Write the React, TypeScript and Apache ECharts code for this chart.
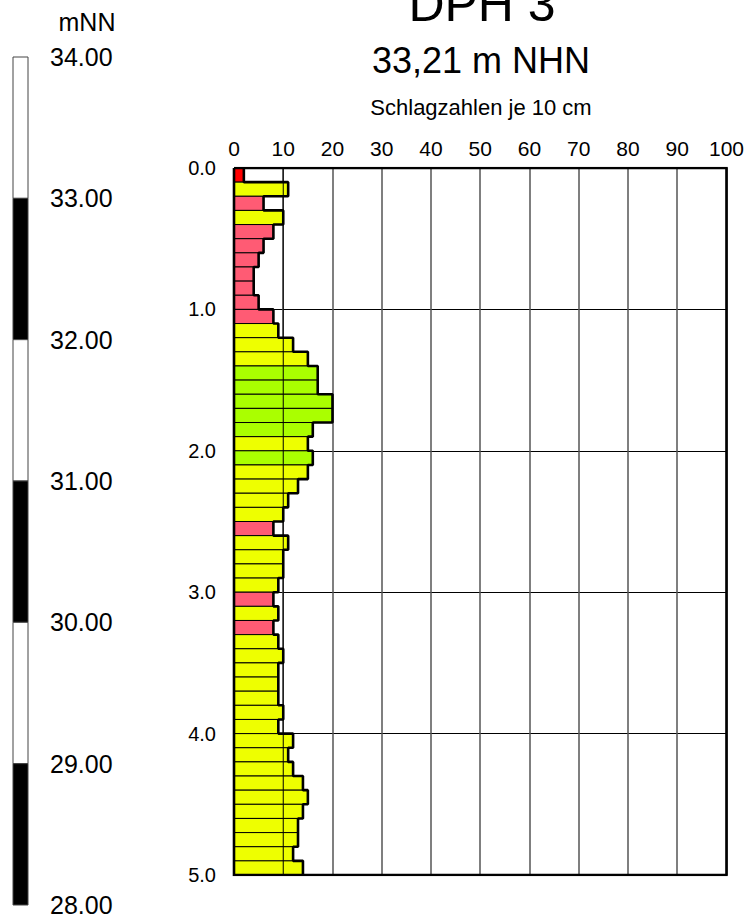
import React, { useEffect, useRef } from "react";
import * as echarts from "echarts";

const FONT = "'Liberation Sans', Arial, sans-serif";

// depth of the top of each 10 cm interval (m)
const depthTop = [
  0.0, 0.1, 0.2, 0.3, 0.4, 0.5, 0.6, 0.7, 0.8, 0.9,
  1.0, 1.1, 1.2, 1.3, 1.4, 1.5, 1.6, 1.7, 1.8, 1.9,
  2.0, 2.1, 2.2, 2.3, 2.4, 2.5, 2.6, 2.7, 2.8, 2.9,
  3.0, 3.1, 3.2, 3.3, 3.4, 3.5, 3.6, 3.7, 3.8, 3.9,
  4.0, 4.1, 4.2, 4.3, 4.4, 4.5, 4.6, 4.7, 4.8, 4.9,
];
// Schlagzahlen je 10 cm
const blows = [
  2, 11, 6, 10, 8, 6, 5, 4, 4, 5,
  8, 9, 12, 15, 17, 17, 20, 20, 16, 15,
  16, 15, 13, 11, 10, 8, 11, 10, 10, 9,
  8, 9, 8, 9, 10, 9, 9, 9, 10, 9,
  12, 11, 12, 14, 15, 14, 13, 13, 12, 14,
];
const STEP = 0.1;

const xTicks = [0, 10, 20, 30, 40, 50, 60, 70, 80, 90, 100];
const depthTicks = [0, 1, 2, 3, 4, 5];

// elevation scale (m NN)
const elevTop = [34, 33, 32, 31, 30, 29];
const elevBottom = [33, 32, 31, 30, 29, 28];
const elevFill = ["#ffffff", "#000000", "#ffffff", "#000000", "#ffffff", "#000000"];

const title = "DPH 3";
const subtitle = "33,21 m NHN";
const xName = "Schlagzahlen je 10 cm";
const elevUnit = "mNN";

function barColor(v: number) {
  if (v <= 2) return "#ff0000";
  if (v <= 8) return "#ff5b74";
  if (v <= 15) return "#eeff00";
  return "#aaff00";
}

export default function App() {
  const ref = useRef<HTMLDivElement>(null);
  useEffect(() => {
    document.body.style.margin = "0";
    const chart = echarts.init(ref.current!, undefined, { renderer: "svg" });

    const barData = blows.map((v, i) => [v, depthTop[i]]);
    const stepData: number[][] = [];
    blows.forEach((v, i) => {
      stepData.push([v, depthTop[i]]);
      stepData.push([v, depthTop[i] + STEP]);
    });
    const xMin = xTicks[0];
    const xMax = xTicks[xTicks.length - 1];
    const dMin = depthTicks[0];
    const dMax = depthTicks[depthTicks.length - 1];

    chart.setOption({
      animation: false,
      backgroundColor: "#ffffff",
      textStyle: { fontFamily: FONT },
      grid: [
        { left: 234, top: 168, width: 496, height: 707, containLabel: false },
        { left: 13, top: 57, width: 15, height: 848, containLabel: false },
      ],
      xAxis: [
        {
          gridIndex: 0,
          type: "value",
          position: "top",
          min: xMin,
          max: xMax,
          interval: 10,
          axisLine: { show: false },
          axisTick: { show: false },
          axisLabel: { color: "#000", fontSize: 21, margin: 9, fontFamily: FONT },
          splitLine: { show: true, lineStyle: { color: "#555", width: 1.5 } },
        },
        {
          gridIndex: 1,
          type: "value",
          min: 0,
          max: 1,
          show: false,
        },
      ],
      yAxis: [
        {
          gridIndex: 0,
          type: "value",
          inverse: true,
          min: dMin,
          max: dMax,
          interval: 1,
          axisLine: { show: false },
          axisTick: { show: false },
          axisLabel: {
            color: "#000",
            fontSize: 20,
            margin: 18,
            fontFamily: FONT,
            formatter: (v: number) => v.toFixed(1),
            padding: [6, 0, 0, 0],
          },
          splitLine: { show: true, lineStyle: { color: "#000", width: 1 } },
        },
        {
          gridIndex: 1,
          type: "value",
          position: "right",
          min: 28,
          max: 34,
          interval: 1,
          axisLine: { show: false },
          axisTick: { show: false },
          splitLine: { show: false },
          axisLabel: {
            color: "#000",
            fontSize: 25,
            margin: 22,
            fontFamily: FONT,
            formatter: (v: number) => v.toFixed(2),
            padding: [6, 0, 0, 0],
          },
        },
      ],
      graphic: [
        {
          type: "text",
          x: 482,
          y: 4,
          style: {
            text: title,
            fill: "#000",
            font: `50px ${FONT}`,
            align: "center",
            verticalAlign: "middle",
          },
        },
        {
          type: "text",
          x: 481,
          y: 60,
          style: {
            text: subtitle,
            fill: "#000",
            font: `36px ${FONT}`,
            align: "center",
            verticalAlign: "middle",
          },
        },
        {
          type: "text",
          x: 481,
          y: 107,
          style: {
            text: xName,
            fill: "#000",
            font: `22px ${FONT}`,
            align: "center",
            verticalAlign: "middle",
          },
        },
        {
          type: "text",
          x: 87,
          y: 22,
          style: {
            text: elevUnit,
            fill: "#000",
            font: `25px ${FONT}`,
            align: "center",
            verticalAlign: "middle",
          },
        },
      ],
      series: [
        {
          type: "custom",
          xAxisIndex: 0,
          yAxisIndex: 0,
          z: 2,
          data: barData,
          encode: { x: 0, y: 1 },
          renderItem: (params: any, api: any) => {
            const v = api.value(0);
            const d = api.value(1);
            const p0 = api.coord([0, d]);
            const p1 = api.coord([v, d + STEP]);
            return {
              type: "rect",
              shape: { x: p0[0], y: p0[1], width: p1[0] - p0[0], height: p1[1] - p0[1] },
              style: { fill: barColor(v), stroke: "#000", lineWidth: 1 },
            };
          },
        },
        {
          type: "line",
          xAxisIndex: 0,
          yAxisIndex: 0,
          z: 3,
          data: stepData,
          showSymbol: false,
          symbol: "none",
          lineStyle: { color: "#000", width: 2.6 },
        },
        {
          type: "line",
          xAxisIndex: 0,
          yAxisIndex: 0,
          z: 4,
          data: [
            [10, dMin],
            [10, dMax],
          ],
          showSymbol: false,
          symbol: "none",
          lineStyle: { color: "#000", width: 1 },
        },
        {
          type: "line",
          xAxisIndex: 0,
          yAxisIndex: 0,
          z: 5,
          data: [
            [xMin, dMin],
            [xMax, dMin],
            [xMax, dMax],
            [xMin, dMax],
            [xMin, dMin],
          ],
          showSymbol: false,
          symbol: "none",
          lineStyle: { color: "#000", width: 2.6, join: "miter" },
        },
        {
          type: "custom",
          xAxisIndex: 1,
          yAxisIndex: 1,
          z: 2,
          data: elevTop.map((t, i) => [t, elevBottom[i], i]),
          encode: { y: [0, 1] },
          renderItem: (params: any, api: any) => {
            const t = api.value(0);
            const b = api.value(1);
            const i = api.value(2);
            const p0 = api.coord([0, t]);
            const p1 = api.coord([1, b]);
            return {
              type: "rect",
              shape: { x: p0[0], y: p0[1], width: p1[0] - p0[0], height: p1[1] - p0[1] },
              style: { fill: elevFill[i], stroke: "#444", lineWidth: 1 },
            };
          },
        },
      ],
    });
    return () => chart.dispose();
  }, []);
  return (
    <div
      ref={ref}
      style={{ position: "fixed", left: 0, top: 0, width: 747, height: 920 }}
    />
  );
}
